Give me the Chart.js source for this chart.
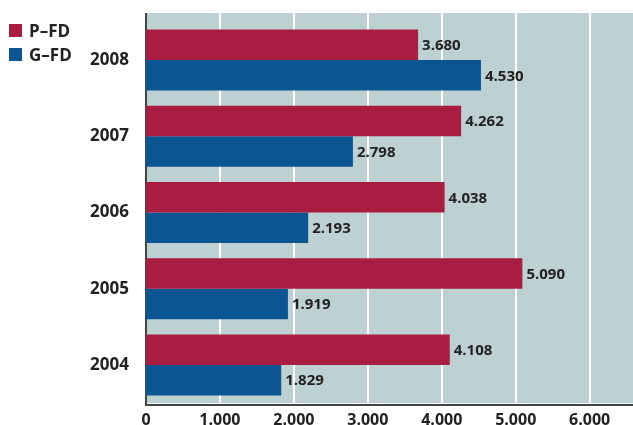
<!DOCTYPE html>
<html>
<head>
<meta charset="utf-8">
<script src="https://cdn.jsdelivr.net/npm/chart.js@4.4.1/dist/chart.umd.min.js"></script>
<style>
  html, body { margin: 0; padding: 0; background: #fff; }
  #wrap { position: relative; width: 633px; height: 425px; }
  .legend { position: absolute; left: 9px; font: 700 17px "Open Sans", sans-serif; color: #222; line-height: 14px; }
  .legend span { display: inline-block; width: 13px; height: 13px; vertical-align: top; margin-right: 7px; }
</style>
</head>
<body>
<div id="wrap">
  <canvas id="chart" width="633" height="425"></canvas>
  <div class="legend" style="top:24px"><span style="background:#a91d40"></span>P–FD</div>
  <div class="legend" style="top:48px"><span style="background:#0b5592"></span>G–FD</div>
</div>
<script>
// data
const years = ['2008', '2007', '2006', '2005', '2004'];
const pfd = [3680, 4262, 4038, 5090, 4108];
const gfd = [4530, 2798, 2193, 1919, 1829];
const xTicks = [0, 1000, 2000, 3000, 4000, 5000, 6000];

const RED = '#a91d40';
const BLUE = '#0b5592';
const PLOT_BG = '#bdd0d2';
const FONT = '"Open Sans", sans-serif';

function fmt(v) {
    return String(v).replace(/\B(?=(\d{3})+(?!\d))/g, '.');
}

// plot background + white gridlines, starting a little above the chart area
const bgPlugin = {
    id: 'bg',
    beforeDatasetsDraw(chart) {
        const { ctx, chartArea: a, scales: { x } } = chart;
        const top = a.top - 9;
        ctx.save();
        ctx.fillStyle = PLOT_BG;
        ctx.fillRect(a.left, top, a.right - a.left, a.bottom - top);
        ctx.strokeStyle = '#ffffff';
        ctx.lineWidth = 2;
        xTicks.forEach(t => {
            if (t === 0) return;
            const px = Math.round(x.getPixelForValue(t));
            ctx.beginPath();
            ctx.moveTo(px, top);
            ctx.lineTo(px, a.bottom);
            ctx.stroke();
        });
        // axis lines
        ctx.strokeStyle = '#444';
        ctx.lineWidth = 2;
        ctx.beginPath();
        ctx.moveTo(a.left, top);
        ctx.lineTo(a.left, a.bottom + 2);
        ctx.lineTo(a.right, a.bottom + 2);
        ctx.stroke();
        ctx.restore();
    }
};

const labelPlugin = {
    id: 'valueLabels',
    afterDatasetsDraw(chart) {
        const ctx = chart.ctx;
        ctx.save();
        ctx.font = '700 15px ' + FONT;
        ctx.fillStyle = '#222';
        ctx.textBaseline = 'middle';
        chart.data.datasets.forEach((ds, i) => {
            chart.getDatasetMeta(i).data.forEach((bar, j) => {
                ctx.fillText(fmt(ds.data[j]), bar.x + 4, bar.y + 1);
            });
        });
        ctx.restore();
    }
};

new Chart(document.getElementById('chart'), {
    type: 'bar',
    data: {
        labels: years,
        datasets: [
            { label: 'P–FD', data: pfd, backgroundColor: RED, barPercentage: 1, categoryPercentage: 0.8 },
            { label: 'G–FD', data: gfd, backgroundColor: BLUE, barPercentage: 1, categoryPercentage: 0.8 }
        ]
    },
    options: {
        indexAxis: 'y',
        responsive: false,
        animation: false,
        layout: { padding: { top: 22, right: 0, left: 0, bottom: 0 } },
        plugins: { legend: { display: false }, tooltip: { enabled: false } },
        scales: {
            x: {
                min: 0,
                max: 6586,
                afterBuildTicks: axis => { axis.ticks = xTicks.map(v => ({ value: v })); },
                afterFit: axis => { axis.height = 22; },
                grid: { display: false },
                border: { display: false },
                ticks: {
                    color: '#222',
                    font: { family: FONT, size: 16, weight: '700' },
                    padding: 0,
                    maxRotation: 0,
                    callback: v => fmt(v)
                }
            },
            y: {
                afterFit: axis => { axis.width = 146; },
                grid: { display: false },
                border: { display: false },
                ticks: {
                    color: '#222',
                    font: { family: FONT, size: 17, weight: '700' },
                    padding: 9
                }
            }
        }
    },
    plugins: [bgPlugin, labelPlugin]
});
</script>
</body>
</html>
